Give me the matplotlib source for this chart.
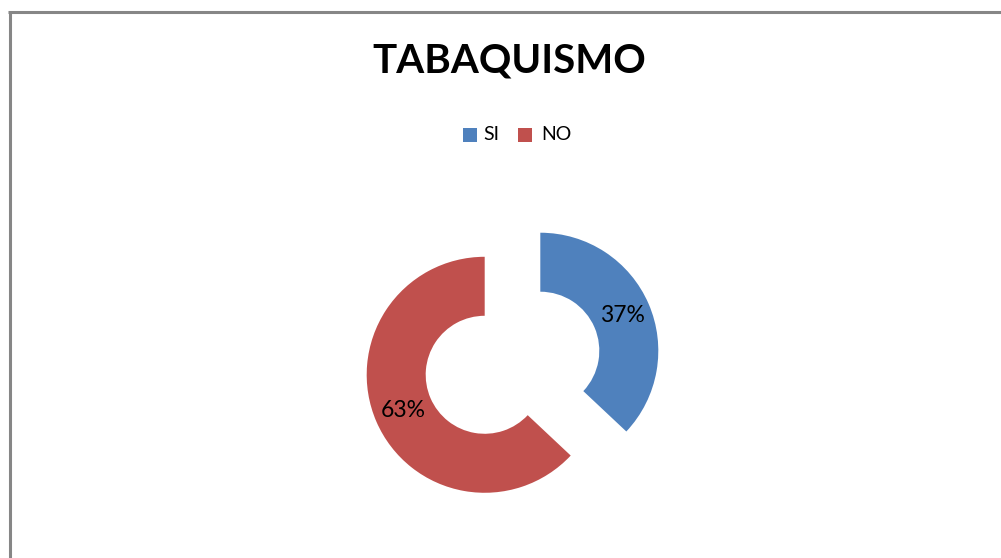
import matplotlib
matplotlib.use("Agg")
import matplotlib.pyplot as plt
from matplotlib.patches import Rectangle
from matplotlib.lines import Line2D

categories = ["SI", "NO"]
values = [37, 63]
colors = ["#4F81BD", "#C0504D"]
title = "TABAQUISMO"

W, H = 1001, 558
fig = plt.figure(figsize=(W / 100, H / 100), dpi=100)
fig.patch.set_facecolor("white")

ax = fig.add_axes([0, 0, 1, 1])

cx, cy = 512.5, H - 362.75
R = 118
EXPL = 30.3  # absolute data units (pixels)
wedges, texts, autotexts = ax.pie(
    values, colors=colors, startangle=90, counterclock=False,
    explode=[EXPL, EXPL], radius=R, center=(cx, cy),
    wedgeprops=dict(width=R * 0.5, linewidth=0),
    autopct=lambda p: f"{p:.0f}%", pctdistance=0.755,
    textprops=dict(fontsize=16.5, family="Lato", color="black"),
    frame=True,
)
ax.set_xlim(0, W)
ax.set_ylim(0, H)
ax.set_axis_off()
ax.set_aspect("auto")

# Title
fig.text(509 / W, 1 - 61 / H, title, ha="center", va="center",
         fontsize=29, fontweight="bold", family="Lato")

# Legend (manual)
sq = 14
legend_items = [(463, 483), (518, 541)]
for (sx, tx), lab, col in zip(legend_items, categories, colors):
    fig.patches.append(Rectangle((sx / W, 1 - 142 / H), sq / W, sq / H,
                                 transform=fig.transFigure, facecolor=col,
                                 edgecolor="none"))
    fig.text(tx / W, 1 - 134.5 / H, lab, ha="left", va="center",
             fontsize=14, family="Lato")

# Border (left and top)
lc = "#868686"
fig.lines.append(Line2D([9.5 / W, 9.5 / W], [0, 1 - 11 / H],
                        transform=fig.transFigure, color=lc, linewidth=2.2,
                        solid_capstyle="butt"))
fig.lines.append(Line2D([8 / W, 1], [1 - 11.5 / H, 1 - 11.5 / H],
                        transform=fig.transFigure, color=lc, linewidth=2.2,
                        solid_capstyle="butt"))

fig.savefig("out.png", dpi=100, facecolor="white")
